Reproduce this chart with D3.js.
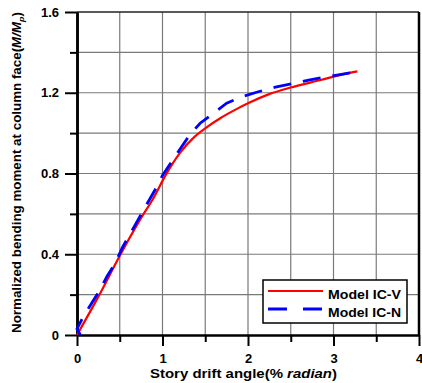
<!DOCTYPE html>
<html>
<head>
<meta charset="utf-8">
<script src="https://cdn.jsdelivr.net/npm/d3@7"></script>
<style>
  html, body { margin: 0; padding: 0; background: #fff; }
  svg { display: block; }
  text { font-family: "Liberation Sans", Arial, sans-serif; font-weight: bold; fill: #000; }
</style>
</head>
<body>
<svg id="chart" width="422" height="383"></svg>
<script>
// ---- data ----
const seriesNames = ["Model IC-V", "Model IC-N"];
const redX = [0, 0.25, 0.51, 0.75, 0.89, 1.03, 1.2, 1.38, 1.52, 1.68, 1.87, 2.0, 2.24, 2.5, 2.85, 3.12, 3.28];
const redY = [0, 0.19, 0.4, 0.58, 0.675, 0.787, 0.9, 0.984, 1.03, 1.075, 1.12, 1.148, 1.192, 1.226, 1.263, 1.292, 1.306];
const blueX = [0.04, 0.0, 0.06, 0.16, 0.26, 0.35, 0.45, 0.53, 0.62, 0.72, 0.82, 0.91, 1.0, 1.2, 1.32, 1.44, 1.6, 1.75, 1.93, 2.12, 2.32, 2.49, 2.71, 2.88, 3.29];
const blueY = [0, 0.03, 0.08, 0.15, 0.217, 0.29, 0.358, 0.433, 0.5, 0.575, 0.65, 0.717, 0.79, 0.918, 0.992, 1.049, 1.1, 1.148, 1.18, 1.205, 1.228, 1.243, 1.263, 1.276, 1.306];
const xMajorTicks = [0, 1, 2, 3, 4];
const xMinorTicks = [0.5, 1.5, 2.5, 3.5];
const yMajorTicks = [0, 0.4, 0.8, 1.2, 1.6];
const yMinorTicks = [0.2, 0.6, 1.0, 1.4];
const xTickLabels = ["0", "1", "2", "3", "4"];
const yTickLabels = ["0", "0.4", "0.8", "1.2", "1.6"];

// ---- layout ----
const svg = d3.select("#chart");
const x = d3.scaleLinear().domain([0, 4]).range([77, 419]);
const y = d3.scaleLinear().domain([0, 1.6]).range([335, 12]);

// grid
const grid = svg.append("g");
const gx = d3.range(0.5, 4, 0.5);
const gy = [0.2, 0.4, 0.6, 0.8, 1.0, 1.2, 1.4];
grid.selectAll("line.gx").data(gx).join("line")
  .attr("x1", d => x(d)).attr("x2", d => x(d))
  .attr("y1", y(0)).attr("y2", y(1.6))
  .attr("stroke", "#7a7a7a").attr("stroke-width", 1.2);
grid.selectAll("line.gy").data(gy).join("line")
  .attr("x1", x(0)).attr("x2", x(4))
  .attr("y1", d => y(d)).attr("y2", d => y(d))
  .attr("stroke", "#7a7a7a").attr("stroke-width", 1.2);

// frame top & right
svg.append("line").attr("x1", x(0)).attr("x2", x(4)).attr("y1", y(1.6)).attr("y2", y(1.6))
  .attr("stroke", "#222").attr("stroke-width", 1.6);
svg.append("line").attr("x1", x(4)).attr("x2", x(4)).attr("y1", y(0)).attr("y2", y(1.6))
  .attr("stroke", "#000").attr("stroke-width", 2.5);

// axes
function styleAxis(g, w) {
  g.select(".domain").attr("stroke", "#000").attr("stroke-width", w);
  g.selectAll(".tick line").attr("stroke", "#000").attr("stroke-width", 2);
  g.selectAll("text").attr("font-size", 13).attr("font-family", "Liberation Sans, Arial, sans-serif").attr("font-weight", "bold");
}
const yMinor = svg.append("g").attr("transform", `translate(${x(0)},0)`)
  .call(d3.axisLeft(y).tickValues(yMinorTicks).tickSize(7).tickSizeOuter(0).tickFormat(""));
styleAxis(yMinor, 2.5);
const yMajor = svg.append("g").attr("transform", `translate(${x(0)},0)`)
  .call(d3.axisLeft(y).tickValues(yMajorTicks).tickSize(12).tickSizeOuter(0).tickPadding(6)
    .tickFormat((d, i) => yTickLabels[i]));
styleAxis(yMajor, 2.5);
const xMinor = svg.append("g").attr("transform", `translate(0,${y(0)})`)
  .call(d3.axisBottom(x).tickValues(xMinorTicks).tickSize(7).tickSizeOuter(0).tickFormat(""));
styleAxis(xMinor, 2.2);
const xMajor = svg.append("g").attr("transform", `translate(0,${y(0)})`)
  .call(d3.axisBottom(x).tickValues(xMajorTicks).tickSize(11).tickSizeOuter(0).tickPadding(8)
    .tickFormat((d, i) => xTickLabels[i]));
styleAxis(xMajor, 2.2);

// series
const redLine = d3.line().x(d => x(d[0])).y(d => y(d[1])).curve(d3.curveMonotoneX);
const blueLine = d3.line().x(d => x(d[0])).y(d => y(d[1]));
const redData = redX.map((v, i) => [v, redY[i]]);
const blueData = blueX.map((v, i) => [v, blueY[i]]);
svg.append("path").datum(redData).attr("d", redLine)
  .attr("fill", "none").attr("stroke", "#ff0000").attr("stroke-width", 2.2).attr("stroke-linejoin", "round");
svg.append("path").datum(blueData).attr("d", blueLine)
  .attr("fill", "none").attr("stroke", "#0000ff").attr("stroke-width", 2.8)
  .attr("stroke-dasharray", "18,12");

// axis titles
const xt = svg.append("text").attr("x", 150).attr("y", 378)
  .attr("font-size", 12).attr("textLength", 187).attr("lengthAdjust", "spacingAndGlyphs");
xt.append("tspan").text("Story drift angle(% ");
xt.append("tspan").attr("font-style", "italic").text("radian");
xt.append("tspan").text(")");

const yt = svg.append("text").attr("transform", "translate(21,172.5) rotate(-90)")
  .attr("text-anchor", "middle").attr("font-size", 12)
  .attr("textLength", 321).attr("lengthAdjust", "spacingAndGlyphs");
yt.append("tspan").text("Normalized bending moment at column face(");
yt.append("tspan").attr("font-style", "italic").text("M/M");
yt.append("tspan").attr("font-style", "italic").attr("font-size", 8).attr("dy", 3).text("p");
yt.append("tspan").attr("dy", -3).text(")");

// legend
const lg = svg.append("g");
lg.append("rect").attr("x", 263).attr("y", 280).attr("width", 144).attr("height", 43)
  .attr("fill", "#fff").attr("stroke", "#000").attr("stroke-width", 1.5);
const legendColors = ["#ff0000", "#0000ff"];
const legendDash = [null, "19,16"];
const legendY = [291, 309];
seriesNames.forEach((name, i) => {
  lg.append("line").attr("x1", 268).attr("x2", 323).attr("y1", legendY[i]).attr("y2", legendY[i])
    .attr("stroke", legendColors[i]).attr("stroke-width", i ? 2.8 : 2.2)
    .attr("stroke-dasharray", legendDash[i]);
  lg.append("text").attr("x", 328).attr("y", legendY[i] + 7.5).attr("font-size", 12)
    .attr("textLength", 73).attr("lengthAdjust", "spacingAndGlyphs").text(name);
});
</script>
</body>
</html>
